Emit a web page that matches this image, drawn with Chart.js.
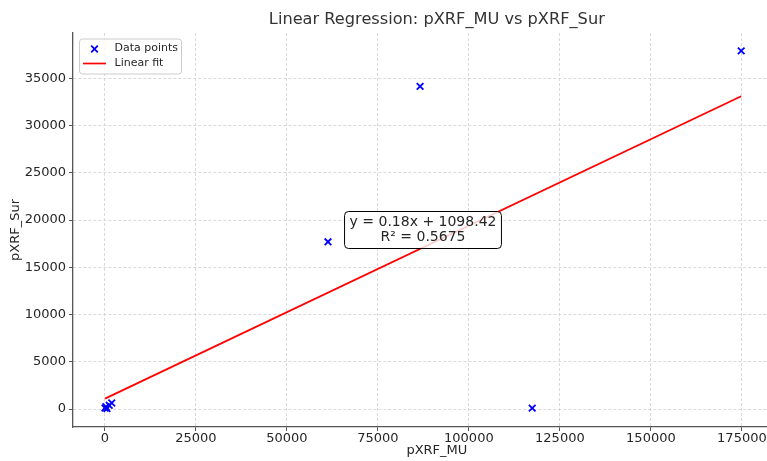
<!DOCTYPE html>
<html>
<head>
<meta charset="utf-8">
<title>Linear Regression: pXRF_MU vs pXRF_Sur</title>
<script src="https://cdn.jsdelivr.net/npm/chart.js@4.4.0/dist/chart.umd.min.js"></script>
<style>
  html, body { margin: 0; padding: 0; background: #fff; }
  #wrap { width: 767px; height: 461px; }
</style>
</head>
<body>
<div id="wrap"><canvas id="regChart" width="767" height="461"></canvas></div>
<script>
const pointsMU  = [50, 300, 600, 1200, 1900, 61300, 86600, 117400, 174800];
const pointsSur = [100, 250, 50, 400, 650, 17700, 34150, 100, 37900];
const fitMU  = [50, 174800];
const fitSur = [1107, 33100];
const xTicks = [0, 25000, 50000, 75000, 100000, 125000, 150000, 175000];
const yTicks = [0, 5000, 10000, 15000, 20000, 25000, 30000, 35000];
const fitLabel = ["y = 0.18x + 1098.42", "R\u00b2 = 0.5675"];
const legendLabels = ["Data points", "Linear fit"];
const chartTitle = "Linear Regression: pXRF_MU vs pXRF_Sur";
const xLabel = "pXRF_MU";
const yLabel = "pXRF_Sur";

const FONT = "'DejaVu Sans', 'Noto Sans', sans-serif";
const TXT = "#262626";

const scatterData = pointsMU.map((x, i) => ({ x: x, y: pointsSur[i] }));
const fitData = fitMU.map((x, i) => ({ x: x, y: fitSur[i] }));

function roundRect(ctx, x, y, w, h, r) {
  ctx.beginPath();
  ctx.moveTo(x + r, y);
  ctx.lineTo(x + w - r, y);
  ctx.quadraticCurveTo(x + w, y, x + w, y + r);
  ctx.lineTo(x + w, y + h - r);
  ctx.quadraticCurveTo(x + w, y + h, x + w - r, y + h);
  ctx.lineTo(x + r, y + h);
  ctx.quadraticCurveTo(x, y + h, x, y + h - r);
  ctx.lineTo(x, y + r);
  ctx.quadraticCurveTo(x, y, x + r, y);
  ctx.closePath();
}

// title, axis label, legend box and the fit text box
const overlay = {
  id: "overlay",
  afterDatasetsDraw(chart) {
    const ctx = chart.ctx;
    const xs = chart.scales.x, ys = chart.scales.y;
    const midX = xs.getPixelForValue(87400);
    const midY = ys.getPixelForValue(18950);

    ctx.save();
    ctx.font = "14px " + FONT;
    const w = Math.max(...fitLabel.map(t => ctx.measureText(t).width)) + 10;
    const h = 37;
    roundRect(ctx, midX - w / 2, midY - h / 2, w, h, 4);
    ctx.fillStyle = "rgba(255,255,255,0.8)";
    ctx.fill();
    ctx.strokeStyle = "#000";
    ctx.lineWidth = 1;
    ctx.stroke();
    ctx.fillStyle = TXT;
    ctx.textAlign = "center";
    ctx.textBaseline = "middle";
    ctx.fillText(fitLabel[0], midX, midY - 7.5);
    ctx.fillText(fitLabel[1], midX, midY + 7);
    ctx.restore();
  },
  afterDraw(chart) {
    const ctx = chart.ctx;
    const xs = chart.scales.x;
    const centerX = xs.getPixelForValue(91200);
    ctx.save();
    ctx.textAlign = "center";
    ctx.textBaseline = "middle";
    // title
    ctx.font = "16.2px " + FONT;
    ctx.fillStyle = "#333";
    ctx.fillText(chartTitle, centerX, 20);
    // x axis label
    ctx.font = "13px " + FONT;
    ctx.fillStyle = TXT;
    ctx.fillText(xLabel, centerX, 451);

    // legend
    const lx = chart.chartArea.left + 6.5, ly = chart.chartArea.top + 6;
    roundRect(ctx, lx, ly, 102, 35, 3);
    ctx.fillStyle = "rgba(255,255,255,0.8)";
    ctx.fill();
    ctx.strokeStyle = "#cccccc";
    ctx.lineWidth = 1;
    ctx.stroke();

    ctx.strokeStyle = "blue";
    ctx.lineWidth = 1.8;
    const cx = lx + 15, cy = ly + 10;
    ctx.beginPath();
    ctx.moveTo(cx - 3.3, cy - 3.3); ctx.lineTo(cx + 3.3, cy + 3.3);
    ctx.moveTo(cx - 3.3, cy + 3.3); ctx.lineTo(cx + 3.3, cy - 3.3);
    ctx.stroke();
    ctx.strokeStyle = "red";
    ctx.lineWidth = 1.7;
    ctx.beginPath();
    ctx.moveTo(lx + 3.5, ly + 24.5); ctx.lineTo(lx + 26.5, ly + 24.5);
    ctx.stroke();

    ctx.font = "11px " + FONT;
    ctx.fillStyle = TXT;
    ctx.textAlign = "left";
    ctx.fillText(legendLabels[0], lx + 35, ly + 9);
    ctx.fillText(legendLabels[1], lx + 35, ly + 24.5);
    ctx.restore();
  }
};

const gridOpts = {
  color: "#d0d0d0",
  lineWidth: 0.8,
  tickLength: 4,
  tickColor: "#555",
  tickWidth: 1,
  tickBorderDash: []
};

new Chart(document.getElementById("regChart"), {
  type: "scatter",
  data: {
    datasets: [
      {
        label: legendLabels[0],
        data: scatterData,
        pointStyle: "crossRot",
        radius: 4.7,
        borderWidth: 1.8,
        borderColor: "blue",
        backgroundColor: "blue",
        order: 2
      },
      {
        type: "line",
        label: legendLabels[1],
        data: fitData,
        borderColor: "red",
        borderWidth: 1.8,
        pointRadius: 0,
        fill: false,
        order: 1
      }
    ]
  },
  options: {
    responsive: false,
    animation: false,
    devicePixelRatio: 1,
    layout: { autoPadding: false, padding: { top: 33, right: 0, bottom: 0, left: 0 } },
    plugins: {
      legend: { display: false },
      title: { display: false },
      tooltip: { enabled: false }
    },
    scales: {
      x: {
        type: "linear",
        position: "bottom",
        min: -8740,
        max: 181890,
        afterBuildTicks: (scale) => { scale.ticks = xTicks.map(v => ({ value: v })); },
        afterFit: (scale) => { scale.height = 34; scale.paddingLeft = 0; scale.paddingRight = 0; },
        ticks: {
          callback: (v) => String(v),
          font: { family: FONT, size: 13 },
          color: TXT,
          padding: 0,
          maxRotation: 0,
          autoSkip: false
        },
        grid: gridOpts,
        border: { display: true, color: "#555", width: 1.3, dash: [3, 2] },
        title: { display: false }
      },
      y: {
        type: "linear",
        position: "left",
        min: -1895,
        max: 39795,
        afterBuildTicks: (scale) => { scale.ticks = yTicks.map(v => ({ value: v })); },
        afterFit: (scale) => { scale.width = 73; scale.paddingTop = 0; scale.paddingBottom = 0; },
        ticks: {
          callback: (v) => String(v),
          font: { family: FONT, size: 13 },
          color: TXT,
          padding: 3,
          autoSkip: false
        },
        grid: gridOpts,
        border: { display: true, color: "#555", width: 1.3, dash: [3, 2] },
        title: {
          display: true,
          text: yLabel,
          font: { family: FONT, size: 13 },
          color: TXT,
          padding: { top: 8, bottom: 0 }
        }
      }
    }
  },
  plugins: [overlay]
});
</script>
</body>
</html>
